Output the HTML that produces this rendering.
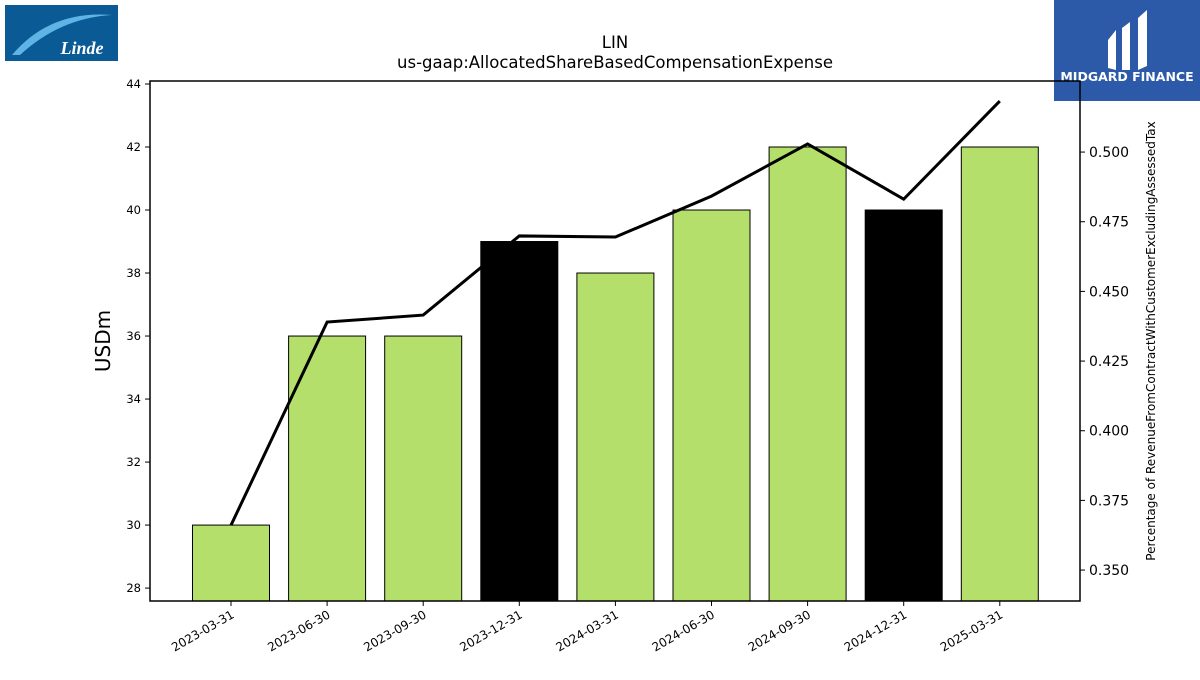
<!DOCTYPE html>
<html><head><meta charset="utf-8"><style>
body{margin:0;background:#fff;width:1200px;height:675px;overflow:hidden;font-family:"Liberation Sans","DejaVu Sans",sans-serif}
</style></head><body>
<svg id="chart" width="1200" height="675" xmlns="http://www.w3.org/2000/svg" font-family="DejaVu Sans, Liberation Sans, sans-serif">
<rect x="5" y="5" width="113" height="56" fill="#0a5a96"/>
<path d="M12 55 Q50 10 112 15 Q60 18 20 55 Z" fill="#5fb4e6"/>
<text x="82" y="54" fill="#fff" font-size="18" font-style="italic" font-weight="bold" font-family="Liberation Serif, serif" text-anchor="middle">Linde</text>
<rect x="1054" y="0" width="146" height="101" fill="#2c5aa8"/>
<path d="M1108 40 L1116 30 L1116 70 L1108 68 Z M1122 28 L1130 22 L1130 70 L1122 70 Z M1138 18 L1147 10 L1147 66 L1138 70 Z" fill="#fff"/>
<text x="1127" y="81" fill="#fff" font-size="12.5" font-weight="bold" text-anchor="middle">MIDGARD FINANCE</text>
<text x="615" y="48" font-size="16.5" text-anchor="middle">LIN</text>
<text x="615" y="68" font-size="16.5" text-anchor="middle">us-gaap:AllocatedShareBasedCompensationExpense</text>
<g id="bars"></g><g id="axes"></g><path id="line" fill="none" stroke="#000" stroke-width="3"/>
<rect x="150" y="81" width="930" height="520" fill="none" stroke="#000" stroke-width="1.5"/>
<text transform="translate(110,341) rotate(-90)" font-size="20" text-anchor="middle">USDm</text>
<text transform="translate(1155,341) rotate(-90)" font-size="12" text-anchor="middle">Percentage of RevenueFromContractWithCustomerExcludingAssessedTax</text>
</svg>
<script>
const categories=["2023-03-31","2023-06-30","2023-09-30","2023-12-31","2024-03-31","2024-06-30","2024-09-30","2024-12-31","2025-03-31"];
const barValues=[30,36,36,39,38,40,42,40,42];
const lineValues=[0.3661,0.4390,0.4415,0.4699,0.4695,0.4842,0.5029,0.4831,0.5183];
const leftTicks=[28,30,32,34,36,38,40,42,44];
const rightTicks=[0.350,0.375,0.400,0.425,0.450,0.475,0.500];
const NS="http://www.w3.org/2000/svg";
const X0=150,X1=1080,Y0=81,Y1=601;
const yL=v=>Y1-(v-27.59)/(44.095-27.59)*(Y1-Y0);
const yR=v=>Y1-(v-0.3389)/(0.5255-0.3389)*(Y1-Y0);
const step=96.1, xC=i=>231+i*step;
function mk(t,a,p){const e=document.createElementNS(NS,t);for(const k in a)e.setAttribute(k,a[k]);p.appendChild(e);return e;}
const bars=document.getElementById('bars'),axes=document.getElementById('axes');
barValues.forEach((v,i)=>{
 const q4=categories[i].endsWith('12-31');
 const r=mk('rect',{x:xC(i)-38.5,y:yL(v),width:77,height:Y1-yL(v),fill:q4?'#000':'#b5df6b',stroke:'#000','stroke-width':1},bars);
 
 
 const tk=mk('line',{x1:xC(i),x2:xC(i),y1:Y1,y2:Y1+5,stroke:'#000'},axes);
 
 
 const t=mk('text',{transform:`translate(${xC(i)+4},${Y1+16}) rotate(-30)`,'font-size':12,'text-anchor':'end'},axes);
 t.textContent=categories[i];
 
 
});
leftTicks.forEach(v=>{
 const l=mk('line',{x1:X0-5,x2:X0,y1:yL(v),y2:yL(v),stroke:'#000'},axes);
 
 
 const t=mk('text',{x:X0-9,y:yL(v)+4,'font-size':11.5,'text-anchor':'end'},axes);
 t.textContent=v;
 
 
});
rightTicks.forEach(v=>{
 const l=mk('line',{x1:X1,x2:X1+5,y1:yR(v),y2:yR(v),stroke:'#000'},axes);
 
 
 const t=mk('text',{x:X1+9,y:yR(v)+5,'font-size':14},axes);
 t.textContent=v.toFixed(3);
 
 
});
document.getElementById('line').setAttribute('d',lineValues.map((v,i)=>(i?'L':'M')+xC(i)+' '+yR(v)).join(' '));
</script>
</body></html>
